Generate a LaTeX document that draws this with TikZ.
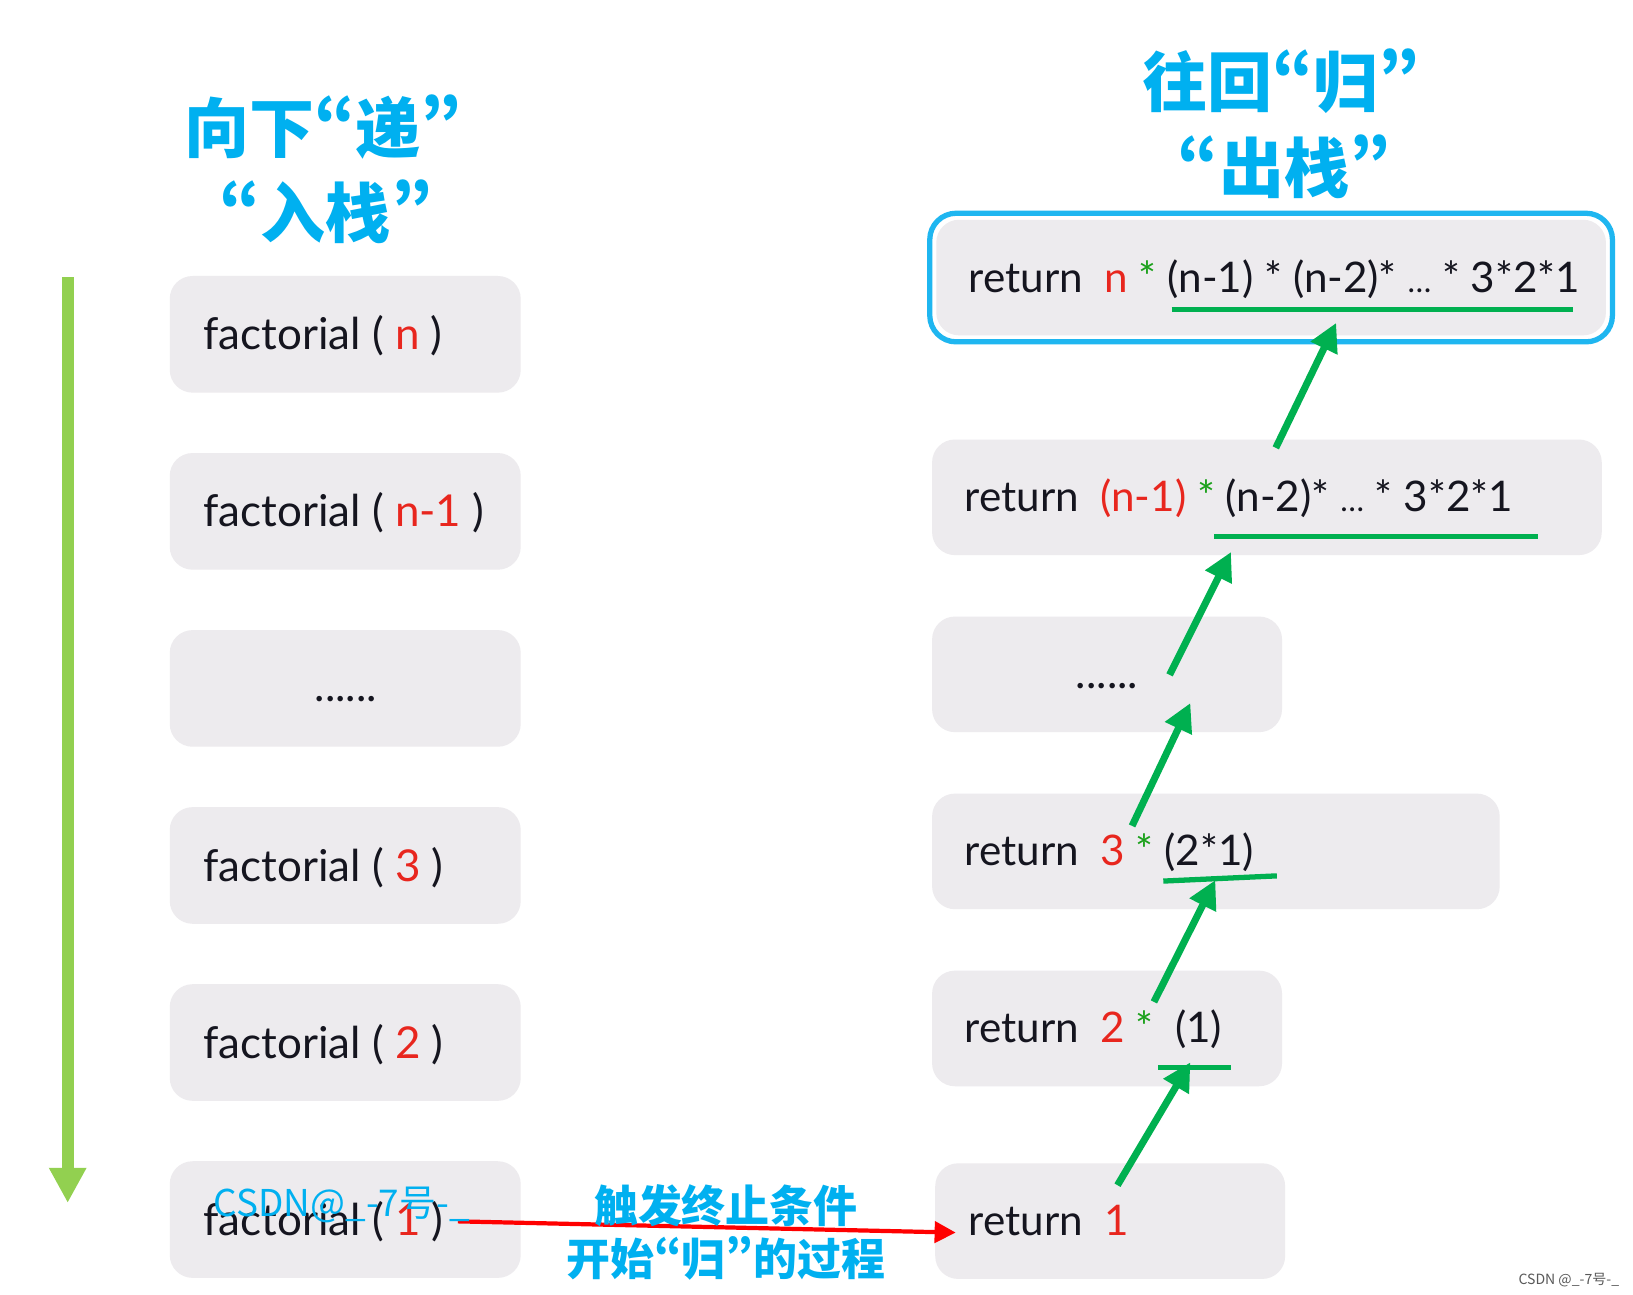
\documentclass[tikz,border=0pt]{standalone}
\usepackage{fontspec}
\usepackage{xcolor}
\usepackage{tikz}
\usetikzlibrary{arrows.meta,fit}
\setmainfont{Lato}
\newfontfamily\cjk{Noto Sans CJK SC}[RawFeature=+pwid]
\definecolor{BoxGray}{HTML}{EDEBEE}
\definecolor{InkDark}{HTML}{15151F}
\definecolor{NumRed}{HTML}{E8261E}
\definecolor{StarGreen}{HTML}{1AA01A}
\definecolor{PathGreen}{HTML}{00B050}
\definecolor{DownGreen}{HTML}{92D050}
\definecolor{TitleBlue}{HTML}{00B0F0}
\definecolor{FrameBlue}{HTML}{1FB6F0}
\newcommand{\nr}[1]{\textcolor{NumRed}{#1}}
\newcommand{\st}{\textcolor{StarGreen}{*}}
\newcommand{\dd}{{\fontsize{18}{20}\selectfont …}}

\begin{document}
\begin{tikzpicture}[x=0.02083cm, y=-0.02083cm,
    box/.style={fill=BoxGray, rounded corners=13pt, inner sep=0pt},
    txt/.style={anchor=base west, text=InkDark, font=\fontsize{25}{30}\selectfont, inner sep=0pt},
    rtxt/.style={txt, font=\fontsize{24}{29}\selectfont},
    title/.style={text=TitleBlue, font=\cjk\bfseries\fontsize{37}{44}\selectfont, inner sep=0pt},
    note/.style={text=TitleBlue, font=\cjk\bfseries\fontsize{25}{30}\selectfont, inner sep=0pt},
    upline/.style={PathGreen, line width=3pt},
    uparrow/.style={PathGreen, line width=4pt, -{Triangle[length=16pt,width=16pt]}}]
  \path[use as bounding box, fill=white] (0,0) rectangle (1568,1243);

  % titles
  \node[title] (down1) at (310,122) {向下“递”};
  \node[title] (down2) at (313,203) {“入栈”};
  \node[title] (up1) at (1230,78) {往回“归”};
  \node[title] (up2) at (1233,160) {“出栈”};

  % left column: calls going down
  \foreach \nm/\i/\lbl in {fn/0/{factorial ( \nr{n} )}, fnm/1/{factorial ( \nr{n-1} )},
                           f3/3/{factorial ( \nr{3} )}, f2/4/{factorial ( \nr{2} )},
                           f1/5/{factorial ( \nr{1} )}} {
    \node[box, fit={(163,265+170*\i) (500,377+170*\i)}] (\nm) {};
    \node[txt] (t\nm) at (195,336+170*\i) {\lbl};
  }
  \node[box, fit={(163,605) (500,717)}] (fdots) {};
  \node[txt, anchor=base] (tfdots) at (332,674) {......};

  \coordinate (godown) at (65,266);
  \coordinate (stackend) at (65,1155);
  \draw[DownGreen, line width=7pt, -{Triangle[length=20pt,width=20pt]}] (godown) -- (stackend);

  % right column: returns going up
  \node[box, fit={(899,211) (1542,322)}] (rn) {};
  \node[draw=FrameBlue, line width=3pt, rounded corners=15pt, inner sep=3.5pt, fit=(rn)] (rframe) {};
  \node[box, fit={(895,422) (1538,533)}] (rnm) {};
  \node[box, fit={(895,592) (1231,703)}] (rdots) {};
  \node[box, fit={(895,762) (1440,873)}] (r3) {};
  \node[box, fit={(895,932) (1231,1043)}] (r2) {};
  \node[box, fit={(898,1117) (1234,1228)}] (r1) {};

  \node[rtxt] (trn) at (930,281) {return\ \ \nr{n} \st{} (n-1) * (n-2)* \dd{} * 3*2*1};
  \node[rtxt] (trnm) at (926,491) {return\ \ \nr{(n-1)} \st{} (n-2)* \dd{} * 3*2*1};
  \node[txt, anchor=base] (trdots) at (1063,661) {......};
  \node[rtxt] (tr3) at (926,831) {return\ \ \nr{3} \st{} (2*1)};
  \node[rtxt] (tr2) at (926,1001) {return\ \ \nr{2} \st\ \ (1)};
  \node[rtxt] (tr1) at (930,1186) {return\ \ \nr{1}};

  % underlined partial results
  \draw[upline] (1125,297) -- (1510,297);
  \draw[upline] (1166,515) -- (1477,515);
  \draw[upline] (1117,846) -- (1226,841);
  \draw[upline] (1112,1025) -- (1182,1025);

  \coordinate (lo1) at (1073,1138);  \coordinate (hi1) at (1143,1020);
  \coordinate (lo2) at (1108,962);   \coordinate (hi2) at (1167,845);
  \coordinate (lo3) at (1087,793);   \coordinate (hi3) at (1143,675);
  \coordinate (lo4) at (1123,648);   \coordinate (hi4) at (1182,530);
  \coordinate (lo5) at (1225,430);   \coordinate (hi5) at (1283,310);
  \foreach \k in {1,...,5} {
    \draw[uparrow] (lo\k) -- (hi\k);
  }

  % base case
  \draw[red, line width=2.4pt, -{Triangle[length=12pt,width=12pt]}]
    ([xshift=8pt]tf1.east) -- ([shift={(20,11)}]r1.west);
  \node[note] (stop1) at (697,1158) {触发终止条件};
  \node[note] (stop2) at (697,1208) {开始“归”的过程};

  \node[anchor=base west, text=TitleBlue, font=\cjk\fontsize{21}{24}\selectfont, inner sep=0pt]
    (mark) at (205,1168) {CSDN@\_-7号-\_};
  \node[anchor=base east, text=black!65, font=\cjk\fontsize{8}{9}\selectfont, inner sep=0pt]
    (credit) at (1555,1233) {CSDN @\_-7号-\_};
\end{tikzpicture}
\end{document}
